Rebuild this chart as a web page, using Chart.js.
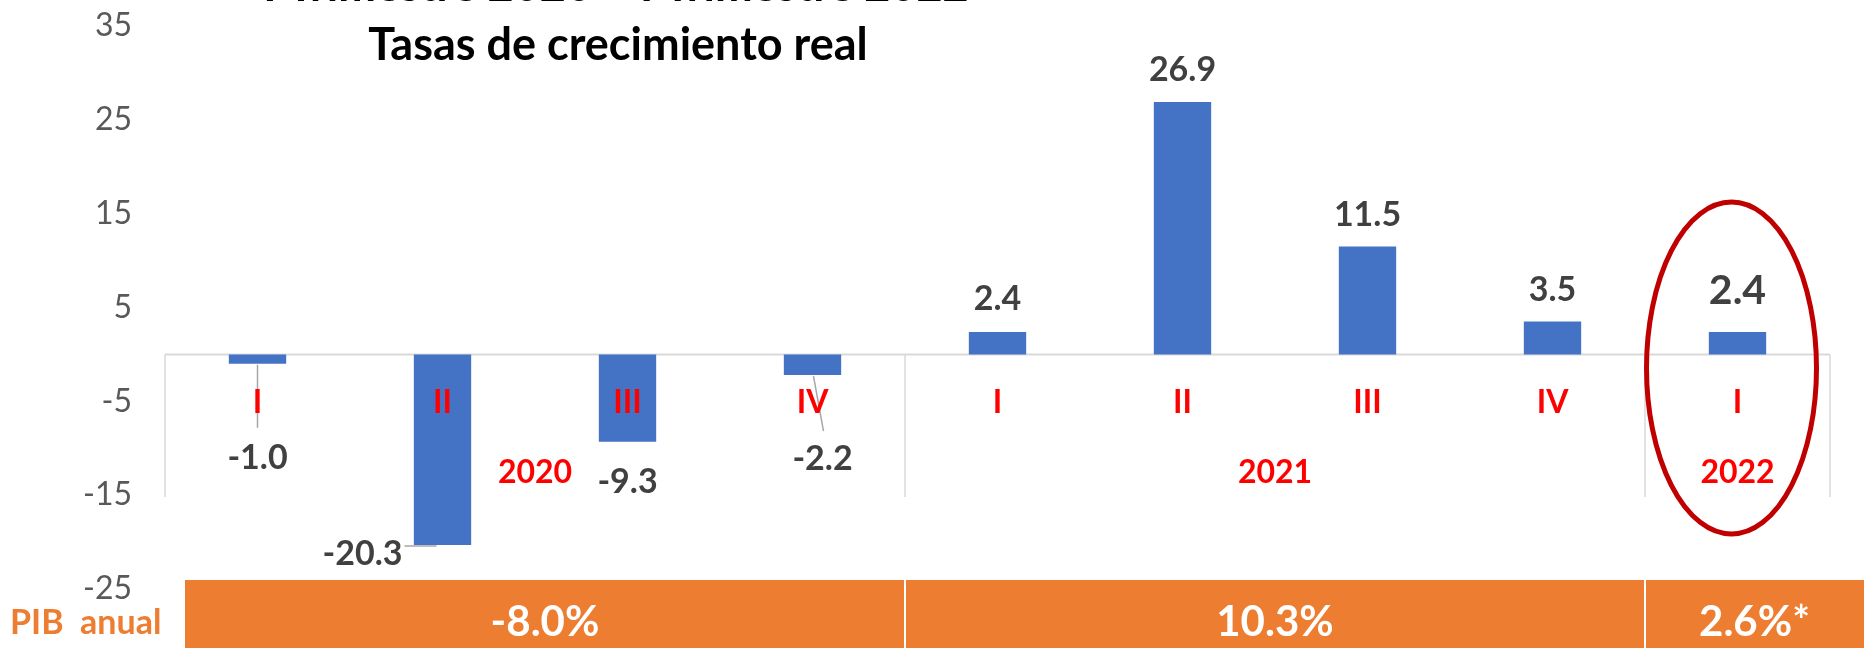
<!DOCTYPE html>
<html>
<head>
<meta charset="utf-8">
<script src="https://cdn.jsdelivr.net/npm/chart.js@4.4.1/dist/chart.umd.min.js"></script>
<style>
  html, body { margin: 0; padding: 0; background: #ffffff; }
  #wrap { width: 1864px; height: 648px; }
</style>
</head>
<body>
<div id="wrap"><canvas id="pibChart" width="1864" height="648"></canvas></div>
<script>
// ===========================
// Data
// ===========================

const quarters = ['I', 'II', 'III', 'IV', 'I', 'II', 'III', 'IV', 'I'];
const years = ['2020', '2021', '2022'];
const quartersPerYear = [4, 4, 1];
const growth = [-1.0, -20.3, -9.3, -2.2, 2.4, 26.9, 11.5, 3.5, 2.4];
const annualGdp = ['-8.0%', '10.3%', '2.6%*'];
const yTicks = [-25, -15, -5, 5, 15, 25, 35];

const titleText = 'Tasas de crecimiento real';
const subtitleText = 'I Trimestre 2020 \u2013 I Trimestre 2022';
const bandCaption = 'PIB  anual';

// ===========================
// Styles
// ===========================

const FONT = 'Lato, "Open Sans", sans-serif';
const BAR_BLUE = '#4472C4';
const ORANGE = '#ED7D31';
const RED = '#FF0000';
const LABEL_GREY = '#404040';
const AXIS_GREY = '#595959';
const LINE_GREY = '#D9D9D9';

// label centre shift from the bar end [dx, dy], Excel style manual placement
const labelShift = [[0, 93], [-80, 8], [0, 39], [10, 83], [0, -34], [0, -33], [0, -33], [0, -33], [0, -43]];
const labelSize = [34, 34, 34, 34, 34, 34, 34, 34, 41];
// leader lines, relative to the bar end
const leaders = {
    0: [0, 1, 0, 64],
    1: [-38, 1, -6, 1],
    3: [1, 1, 11, 56]
};

function font(size, bold) {
    return (bold ? 'bold ' : '') + size + 'px ' + FONT;
}

// draw text with its cap height centred on cy
function capText(ctx, text, x, cy, size) {
    ctx.fillText(text, x, cy + 0.358 * size);
}

// ===========================
// Decorations plugin
// ===========================

const decorPlugin = {
    id: 'decor',
    beforeDatasetsDraw(chart) {
        const { ctx, chartArea, scales: { x, y } } = chart;
        const y0 = y.getPixelForValue(0);
        ctx.save();
        ctx.strokeStyle = LINE_GREY;
        ctx.lineWidth = 2;
        ctx.beginPath();
        ctx.moveTo(chartArea.left, y0);
        ctx.lineTo(chartArea.right, y0);
        ctx.stroke();

        // group separators
        const step = x.getPixelForValue(1) - x.getPixelForValue(0);
        let idx = 0;
        const edges = [chartArea.left];
        quartersPerYear.forEach(n => {
            idx += n;
            edges.push(x.getPixelForValue(idx - 1) + step / 2);
        });
        ctx.lineWidth = 1.5;
        edges.forEach(ex => {
            ctx.beginPath();
            ctx.moveTo(ex, y0);
            ctx.lineTo(ex, 497);
            ctx.stroke();
        });
        ctx.restore();
    },
    afterDraw(chart) {
        const { ctx, scales: { x } } = chart;
        const meta = chart.getDatasetMeta(0);
        const step = x.getPixelForValue(1) - x.getPixelForValue(0);
        ctx.save();

        // leader lines
        ctx.strokeStyle = '#A6A6A6';
        ctx.lineWidth = 1.5;
        Object.keys(leaders).forEach(k => {
            const bar = meta.data[k];
            const l = leaders[k];
            ctx.beginPath();
            ctx.moveTo(bar.x + l[0], bar.y + l[1]);
            ctx.lineTo(bar.x + l[2], bar.y + l[3]);
            ctx.stroke();
        });

        // value labels
        ctx.textAlign = 'center';
        ctx.textBaseline = 'alphabetic';
        ctx.fillStyle = LABEL_GREY;
        growth.forEach((v, i) => {
            const bar = meta.data[i];
            ctx.font = font(labelSize[i], true);
            capText(ctx, v.toFixed(1), bar.x + labelShift[i][0], bar.y + labelShift[i][1], labelSize[i]);
        });

        // quarter labels
        ctx.fillStyle = RED;
        ctx.font = font(32, true);
        quarters.forEach((q, i) => {
            capText(ctx, q, x.getPixelForValue(i), 402, 32);
        });

        // year labels
        let start = 0;
        years.forEach((yr, j) => {
            const end = start + quartersPerYear[j] - 1;
            const cx = (x.getPixelForValue(start) + x.getPixelForValue(end)) / 2;
            capText(ctx, yr, cx, 472, 32);
            start = end + 1;
        });

        // title
        ctx.fillStyle = '#000000';
        ctx.font = font(45, true);
        ctx.fillText(subtitleText, 616, 1);
        ctx.fillText(titleText, 618, 60);

        // annual GDP band
        const bandLeft = 185, bandTop = 580, bandRight = 1864;
        ctx.fillStyle = ORANGE;
        ctx.fillRect(bandLeft, bandTop, bandRight - bandLeft, 648 - bandTop);
        const cuts = [bandLeft];
        let idx = 0;
        quartersPerYear.forEach(n => {
            idx += n;
            cuts.push(idx < quarters.length ? x.getPixelForValue(idx - 1) + step / 2 : bandRight);
        });
        ctx.strokeStyle = '#ffffff';
        ctx.lineWidth = 2;
        [cuts[1], cuts[2]].forEach(cx => {
            ctx.beginPath();
            ctx.moveTo(cx, bandTop);
            ctx.lineTo(cx, 648);
            ctx.stroke();
        });
        ctx.fillStyle = '#ffffff';
        ctx.font = font(42, true);
        annualGdp.forEach((t, j) => {
            capText(ctx, t, (cuts[j] + cuts[j + 1]) / 2, 621, 42);
        });
        ctx.fillStyle = ORANGE;
        ctx.font = font(34, true);
        ctx.textAlign = 'left';
        capText(ctx, bandCaption, 10, 622, 34);

        // highlight ellipse round the last quarter
        ctx.strokeStyle = '#C00000';
        ctx.lineWidth = 5;
        ctx.beginPath();
        ctx.ellipse(x.getPixelForValue(quarters.length - 1) - 6, 368, 85, 166, 0, 0, Math.PI * 2);
        ctx.stroke();

        ctx.restore();
    }
};

// ===========================
// Chart
// ===========================

const ctx = document.getElementById('pibChart');
const pibChart = new Chart(ctx, {
    type: 'bar',
    data: {
        labels: quarters,
        datasets: [{
            data: growth,
            backgroundColor: BAR_BLUE,
            barPercentage: 0.31,
            categoryPercentage: 1
        }]
    },
    options: {
        responsive: false,
        animation: false,
        layout: {
            padding: { left: 0, right: 34, top: 26, bottom: 59 }
        },
        plugins: {
            legend: { display: false },
            tooltip: { enabled: false }
        },
        scales: {
            x: { display: false },
            y: {
                min: -25,
                max: 35,
                afterBuildTicks: axis => {
                    axis.ticks = yTicks.map(v => ({ value: v }));
                },
                afterFit: axis => {
                    axis.width = 165;
                    axis.paddingTop = 0;
                    axis.paddingBottom = 0;
                },
                grid: { display: false },
                border: { display: false },
                ticks: {
                    padding: 25,
                    color: AXIS_GREY,
                    font: { family: FONT, size: 32 }
                }
            }
        }
    },
    plugins: [decorPlugin]
});
</script>
</body>
</html>
